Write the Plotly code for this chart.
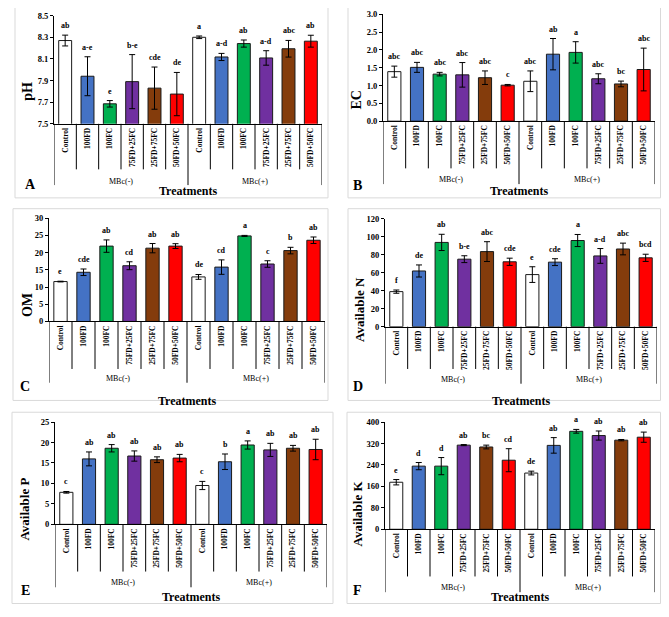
import plotly.graph_objects as go

# categories and groups
categorias = ["Control", "100FD", "100FC", "75FD+25FC", "25FD+75FC", "50FD+50FC"]
grupos = ["MBc(-)", "MBc(+)"]
colores = ["#ffffff", "#4472C4", "#00B050", "#7030A0", "#843C0C", "#FF0000"]

# A - pH
ph_media = [8.27, 7.94, 7.685, 7.89, 7.83, 7.775, 8.30, 8.118, 8.242, 8.109, 8.194, 8.264]
ph_error = [0.05, 0.18, 0.03, 0.25, 0.195, 0.20, 0.012, 0.033, 0.033, 0.067, 0.077, 0.055]
ph_letras = ["ab", "a-e", "e", "b-e", "cde", "de", "a", "a-d", "ab", "a-d", "abc", "ab"]

# B - EC
ec_media = [1.39, 1.51, 1.32, 1.30, 1.22, 1.01, 1.12, 1.88, 1.93, 1.19, 1.045, 1.45]
ec_error = [0.155, 0.14, 0.05, 0.345, 0.19, 0.02, 0.29, 0.44, 0.30, 0.14, 0.08, 0.60]
ec_letras = ["abc", "abc", "abc", "abc", "abc", "c", "abc", "ab", "a", "abc", "bc", "abc"]

# C - OM
om_media = [11.6, 14.3, 21.9, 16.2, 21.3, 21.9, 12.95, 15.8, 24.86, 16.7, 20.6, 23.6]
om_error = [0.1, 0.95, 1.8, 1.15, 1.35, 0.7, 0.7, 2.1, 0.15, 0.95, 0.95, 0.95]
om_letras = ["e", "cde", "ab", "cd", "ab", "ab", "de", "cd", "a", "c", "b", "ab"]

# D - Available N
n_media = [38.9, 61.8, 93.5, 74.9, 83.3, 72.0, 57.8, 71.6, 95.6, 78.5, 86.2, 76.4]
n_error = [1.8, 6.7, 9.0, 3.8, 11.0, 4.0, 8.7, 3.8, 6.7, 8.2, 6.5, 4.0]
n_letras = ["f", "de", "ab", "b-e", "abc", "cde", "e", "cde", "a", "a-d", "abc", "bcd"]

# E - Available P
p_media = [7.83, 16.0, 18.6, 16.7, 15.8, 16.2, 9.5, 15.3, 19.4, 18.2, 18.6, 18.3]
p_error = [0.2, 1.7, 0.9, 1.25, 0.7, 0.9, 1.0, 1.9, 1.0, 1.6, 0.7, 2.5]
p_letras = ["c", "ab", "ab", "ab", "ab", "ab", "c", "b", "a", "ab", "ab", "ab"]

# F - Available K
k_media = [175.5, 235.6, 235.6, 314, 307, 257.7, 209.8, 313, 365.6, 349.7, 332.5, 343.6]
k_error = [10, 13.5, 32, 2, 7, 43, 7, 29, 7, 17, 2.5, 19]
k_letras = ["e", "d", "d", "ab", "bc", "cd", "de", "ab", "a", "ab", "ab", "ab"]

# the page body keeps its 8px margin, so the figure is smaller and shifted by it
BORDE = 8
ANCHO, ALTO = 669 - 2 * BORDE, 617 - 2 * BORDE
FUENTE = "Times New Roman, Liberation Serif, serif"


def px_x(p):
    p = min(p, 669 - BORDE - 0.5)
    return (p - BORDE) / ANCHO


def px_y(p):
    p = min(p, 617 - BORDE - 0.5)
    return 1 - (p - BORDE) / ALTO


paneles = [
    dict(letra="A", titulo="pH", media=ph_media, error=ph_error, letras=ph_letras,
         rango=[7.5, 8.5], dtick=0.2, fmt=".1f",
         x0=54, x1=322, yt=10.7, yb=120.7, corto=167, largo=183,
         caja=(15, 1, 328, 196), mbc=179, trat=189, lx=30, ly=182, tx=28, ty=88, ts=14),
    dict(letra="B", titulo="EC", media=ec_media, error=ec_error, letras=ec_letras,
         rango=[0, 3], dtick=0.5, fmt=".1f",
         x0=383, x1=655, yt=9.3, yb=118, corto=166, largo=182,
         caja=(348, 1, 663, 196), mbc=177, trat=189, lx=357, ly=183, tx=357, ty=97, ts=14),
    dict(letra="C", titulo="OM", media=om_media, error=om_error, letras=om_letras,
         rango=[0, 30], dtick=5, fmt="d",
         x0=49, x1=325, yt=216.7, yb=321.7, corto=370, largo=384,
         caja=(13, 207, 328, 402), mbc=380, trat=403, lx=25, ly=388, tx=27, ty=305, ts=14),
    dict(letra="D", titulo="Available N", media=n_media, error=n_error, letras=n_letras,
         rango=[0, 120], dtick=20, fmt="d",
         x0=385, x1=657, yt=217, yb=327, corto=370, largo=385,
         caja=(348, 207, 665, 402), mbc=381, trat=403, lx=358, ly=388, tx=360, ty=310, ts=13),
    dict(letra="E", titulo="Available P", media=p_media, error=p_error, letras=p_letras,
         rango=[0, 25], dtick=5, fmt="d",
         x0=55, x1=327, yt=424, yb=528, corto=576, largo=592,
         caja=(12, 414, 333, 609), mbc=587, trat=602, lx=25, ly=595, tx=25, ty=513, ts=13),
    dict(letra="F", titulo="Available K", media=k_media, error=k_error, letras=k_letras,
         rango=[0, 400], dtick=80, fmt="d",
         x0=385, x1=655, yt=424, yb=533, corto=581, largo=597,
         caja=(347, 414, 663, 609), mbc=592, trat=602, lx=357, ly=595, tx=358, ty=517, ts=13),
]

fig = go.Figure()
formas = []
notas = []
layout_ejes = {}

etiquetas = categorias * 2
x_pos = list(range(len(etiquetas)))

for i, p in enumerate(paneles, start=1):
    sx = "" if i == 1 else str(i)
    xref = "x" + sx
    yref = "y" + sx

    fig.add_trace(
        go.Bar(
            x=x_pos,
            y=p["media"],
            xaxis=xref,
            yaxis=yref,
            width=0.58,
            marker=dict(color=colores * 2, line=dict(color="#1a1a1a", width=1)),
            error_y=dict(type="data", array=p["error"], color="black", thickness=1, width=3),
            showlegend=False,
            hoverinfo="y",
        )
    )

    layout_ejes["xaxis" + sx] = dict(
        domain=[px_x(p["x0"]), px_x(p["x1"])],
        anchor=yref,
        range=[-0.5, 11.5],
        tickvals=x_pos,
        ticktext=etiquetas,
        tickangle=-90,
        ticks="",
        showline=True,
        linecolor="black",
        linewidth=1,
        showgrid=False,
        zeroline=False,
        tickfont=dict(family=FUENTE, size=7.5, color="black", weight="bold"),
        fixedrange=True,
    )
    layout_ejes["yaxis" + sx] = dict(
        domain=[px_y(p["yb"]), px_y(p["yt"])],
        anchor=xref,
        range=p["rango"],
        dtick=p["dtick"],
        tick0=p["rango"][0],
        tickformat=p["fmt"],
        ticks="outside",
        ticklen=3,
        tickcolor="black",
        showline=True,
        linecolor="black",
        linewidth=1,
        showgrid=False,
        zeroline=False,
        tickfont=dict(family=FUENTE, size=8.5, color="black", weight="bold"),
        fixedrange=True,
    )

    # separators under the category axis
    for k in range(-1, 12):
        fondo = p["largo"] if k in (-1, 5, 11) else p["corto"]
        formas.append(dict(
            type="line", xref=xref, yref="paper",
            x0=k + 0.5, x1=k + 0.5,
            y0=px_y(p["yb"]), y1=px_y(fondo),
            line=dict(color="black", width=1),
        ))

    # light border around panel
    l, t, r, b = p["caja"]
    formas.append(dict(
        type="rect", xref="paper", yref="paper",
        x0=px_x(l), x1=px_x(r), y0=px_y(b), y1=px_y(t),
        line=dict(color="#d9d9d9", width=1),
    ))

    # letters above bars
    for j in x_pos:
        notas.append(dict(
            x=j, y=p["media"][j] + p["error"][j], xref=xref, yref=yref,
            text=p["letras"][j], showarrow=False,
            xanchor="center", yanchor="bottom", yshift=3,
            font=dict(family=FUENTE, size=8, color="black", weight="bold"),
        ))

    for g, nombre in enumerate(grupos):
        notas.append(dict(
            x=2.5 + 6 * g, y=px_y(p["mbc"]), xref=xref, yref="paper",
            text=nombre, showarrow=False, xanchor="center", yanchor="middle",
            font=dict(family=FUENTE, size=8, color="black"),
        ))

    notas.append(dict(
        x=px_x((p["x0"] + p["x1"]) / 2), y=px_y(p["trat"]), xref="paper", yref="paper",
        text="Treatments", showarrow=False, xanchor="center", yanchor="middle",
        font=dict(family=FUENTE, size=12, color="black", weight="bold"),
    ))
    notas.append(dict(
        x=px_x(p["lx"]), y=px_y(p["ly"]), xref="paper", yref="paper",
        text=p["letra"], showarrow=False, xanchor="center", yanchor="middle",
        font=dict(family=FUENTE, size=14, color="black", weight="bold"),
    ))
    notas.append(dict(
        x=px_x(p["tx"]), y=px_y(p["ty"]), xref="paper", yref="paper",
        text=p["titulo"], showarrow=False, textangle=-90,
        xanchor="center", yanchor="middle",
        font=dict(family=FUENTE, size=p["ts"], color="black", weight="bold"),
    ))

fig.update_layout(
    width=ANCHO,
    height=ALTO,
    margin=dict(l=0, r=0, t=0, b=0),
    paper_bgcolor="white",
    plot_bgcolor="white",
    shapes=formas,
    annotations=notas,
    bargap=0.4,
    **layout_ejes
)

fig.write_html("out.html")
